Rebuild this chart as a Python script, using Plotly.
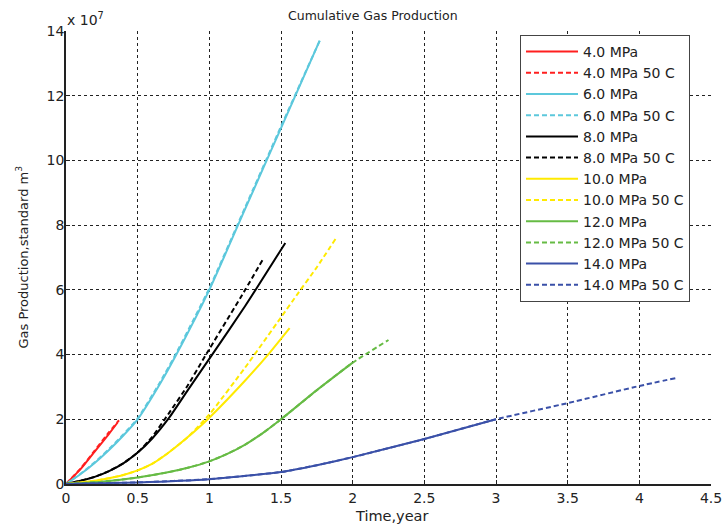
import plotly.graph_objects as go

# ---- data (x: years, y: x 1e7 standard m^3) ----
t_4 = [0, 0.1, 0.2, 0.3, 0.36]
g_4 = [0, 0.45, 1.0, 1.55, 1.9]
t_4h = [0, 0.1, 0.2, 0.3, 0.37]
g_4h = [0, 0.47, 1.03, 1.6, 1.97]

t_6 = [0, 0.1, 0.2, 0.3, 0.4, 0.5, 0.65, 0.77, 1.0, 1.25, 1.5, 1.77]
g_6 = [0, 0.3, 0.65, 1.05, 1.5, 2.0, 3.05, 4.0, 6.0, 8.5, 11.0, 13.7]
t_6h = [0, 0.1, 0.2, 0.3, 0.4, 0.5, 0.65, 0.77, 1.0, 1.25, 1.5, 1.77]
g_6h = [0, 0.31, 0.67, 1.08, 1.53, 2.03, 3.1, 4.05, 6.05, 8.55, 11.05, 13.7]

t_8 = [0, 0.1, 0.2, 0.3, 0.4, 0.5, 0.6, 0.72, 0.85, 1.02, 1.25, 1.53]
g_8 = [0, 0.1, 0.22, 0.4, 0.64, 0.97, 1.4, 2.05, 2.9, 4.0, 5.5, 7.45]
t_8h = [0, 0.1, 0.2, 0.3, 0.4, 0.5, 0.6, 0.72, 0.85, 0.97, 1.25, 1.375]
g_8h = [0, 0.1, 0.22, 0.4, 0.64, 0.97, 1.45, 2.2, 3.05, 3.95, 6.0, 6.95]

t_10 = [0, 0.2, 0.3, 0.4, 0.5, 0.6, 0.71, 0.85, 1.0, 1.25, 1.41, 1.56]
g_10 = [0, 0.1, 0.18, 0.28, 0.42, 0.62, 0.95, 1.45, 2.05, 3.2, 4.0, 4.82]
t_10h = [0, 0.2, 0.3, 0.4, 0.5, 0.6, 0.71, 0.85, 1.0, 1.25, 1.5, 1.62, 1.75, 1.88]
g_10h = [0, 0.1, 0.18, 0.28, 0.42, 0.62, 0.95, 1.45, 2.15, 3.6, 5.15, 5.9, 6.7, 7.57]

t_12 = [0, 0.25, 0.5, 0.71, 0.85, 1.0, 1.125, 1.25, 1.375, 1.5, 1.75, 2.0]
g_12 = [0, 0.07, 0.2, 0.36, 0.5, 0.7, 0.93, 1.22, 1.58, 2.0, 2.9, 3.75]
t_12h = [0, 0.25, 0.5, 0.71, 0.85, 1.0, 1.125, 1.25, 1.375, 1.5, 1.75, 2.0, 2.25]
g_12h = [0, 0.07, 0.2, 0.36, 0.5, 0.7, 0.93, 1.22, 1.58, 2.0, 2.9, 3.75, 4.45]

t_14 = [0, 0.5, 1.0, 1.5, 1.75, 2.0, 2.5, 3.0]
g_14 = [0, 0.05, 0.15, 0.37, 0.58, 0.83, 1.39, 2.0]
t_14h = [0, 0.5, 1.0, 1.5, 1.75, 2.0, 2.5, 3.0, 3.5, 4.0, 4.26]
g_14h = [0, 0.05, 0.15, 0.37, 0.58, 0.83, 1.39, 2.0, 2.5, 3.03, 3.28]

x_ticks = [0, 0.5, 1, 1.5, 2, 2.5, 3, 3.5, 4, 4.5]
x_tick_labels = ["0", "0.5", "1", "1.5", "2", "2.5", "3", "3.5", "4", "4.5"]
y_ticks = [0, 2, 4, 6, 8, 10, 12, 14]
y_tick_labels = ["0", "2", "4", "6", "8", "10", "12", "14"]

series = [
    ("4.0 MPa", t_4, g_4, "#ff1f1f", "solid"),
    ("4.0 MPa 50 C", t_4h, g_4h, "#ff1f1f", "5px,3px"),
    ("6.0 MPa", t_6, g_6, "#5cc8dc", "solid"),
    ("6.0 MPa 50 C", t_6h, g_6h, "#5cc8dc", "5px,3px"),
    ("8.0 MPa", t_8, g_8, "#000000", "solid"),
    ("8.0 MPa 50 C", t_8h, g_8h, "#000000", "5px,3px"),
    ("10.0 MPa", t_10, g_10, "#ffea00", "solid"),
    ("10.0 MPa 50 C", t_10h, g_10h, "#ffea00", "5px,3px"),
    ("12.0 MPa", t_12, g_12, "#66bb44", "solid"),
    ("12.0 MPa 50 C", t_12h, g_12h, "#66bb44", "5px,3px"),
    ("14.0 MPa", t_14, g_14, "#3a50a8", "solid"),
    ("14.0 MPa 50 C", t_14h, g_14h, "#3a50a8", "5px,3px"),
]

FAM = "DejaVu Sans, Arial, sans-serif"
TXT = "#222"
fig = go.Figure()
for name, x, y, c, d in series:
    fig.add_trace(go.Scatter(x=x, y=y, mode="lines", name=name,
                             line=dict(color=c, width=2, dash=d, shape="spline", smoothing=0.5)))

fig.update_layout(
    width=722, height=526,
    margin=dict(l=66, r=11, t=31, b=42, autoexpand=False),
    paper_bgcolor="white", plot_bgcolor="white",
    font=dict(family=FAM, size=14, color=TXT),
    legend=dict(x=(520 - 66) / 645, y=(484 - 35) / 453, xanchor="left", yanchor="top",
                bgcolor="white", bordercolor="#444", borderwidth=1,
                font=dict(family=FAM, size=14, color=TXT),
                tracegroupgap=0, itemwidth=52),
    showlegend=True,
)
fig.update_xaxes(range=[0, 4.5], tickvals=x_ticks, ticktext=x_tick_labels,
                 showgrid=True, gridcolor="#222", griddash="3px,3px", gridwidth=1,
                 showline=True, linecolor="#222", linewidth=1.5,
                 ticks="inside", ticklen=4, tickcolor="#222", zeroline=False,
                 ticklabeloverflow="allow",
                 automargin=False, tickfont=dict(family=FAM, size=14, color=TXT))
fig.update_yaxes(range=[0, 14], tickvals=y_ticks, ticktext=y_tick_labels,
                 showgrid=True, gridcolor="#222", griddash="3px,3px", gridwidth=1,
                 showline=True, linecolor="#222", linewidth=1.5,
                 ticks="inside", ticklen=4, tickcolor="#222", zeroline=False,
                 ticklabelstandoff=-3, ticklabeloverflow="allow",
                 automargin=False, tickfont=dict(family=FAM, size=14, color=TXT))
# title and axis titles as paper annotations
fig.add_annotation(text="Cumulative Gas Production", xref="paper", yref="paper",
                   x=(373 - 66) / 645, y=1.0, yshift=16, xanchor="center", yanchor="middle",
                   showarrow=False, font=dict(family=FAM, size=12.5, color=TXT))
fig.add_annotation(text="Time,year", xref="paper", yref="paper",
                   x=(391 - 66) / 645, y=0, yshift=-32, xanchor="center", yanchor="middle",
                   showarrow=False, font=dict(family=FAM, size=14.5, color=TXT))
fig.add_annotation(text="Gas Production,standard m<sup>3</sup>", xref="paper", yref="paper",
                   x=0, xshift=-44, y=0.5, xanchor="center", yanchor="middle", textangle=-90,
                   showarrow=False, font=dict(family=FAM, size=13, color=TXT))
fig.add_annotation(text="x 10<sup>7</sup>", xref="paper", yref="paper", x=0.0, y=1.0,
                   xanchor="left", yanchor="bottom", showarrow=False, yshift=1, xshift=-1,
                   font=dict(family=FAM, size=14, color=TXT))
fig.write_html("out.html", config={"displayModeBar": False},
               post_script="document.body.style.margin='0';document.body.style.overflow='hidden';")
